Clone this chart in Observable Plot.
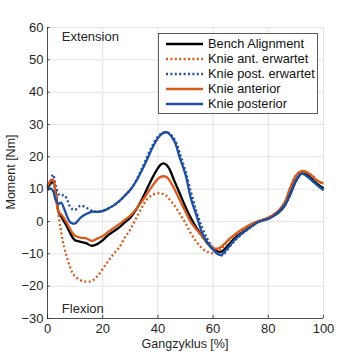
<!DOCTYPE html>
<html><head><meta charset="utf-8">
<script src="https://cdn.jsdelivr.net/npm/d3@7"></script>
<script src="https://cdn.jsdelivr.net/npm/@observablehq/plot@0.6"></script>
<style>body{margin:0;background:#fff}</style>
</head><body><div id="chart"></div>
<script>
const gait = [0,1,2,3,4,5,6,7,8,9,10,12,14,16,18,20,22,24,26,28,30,32,34,36,38,40,41,42,43,44,46,48,50,52,54,56,58,60,62,63,64,66,68,70,72,74,76,78,80,82,84,86,88,90,92,94,96,98,100];
const bench = [10.5,11.5,12.3,9,3,1.5,0,-1.5,-3.2,-4.8,-5.8,-6.3,-6.7,-7.5,-7,-5.8,-4.2,-3,-1.8,-0.3,1.2,3.5,6.5,10,13.5,16.5,17.6,18,17.6,16.5,12.5,8.5,4.5,1,-2,-4.5,-6.8,-8.5,-9.4,-9.3,-8.7,-6.8,-5,-3.7,-2.5,-1.3,-0.2,0.4,1,1.8,3,5,8.5,12.5,14.8,14.5,13,11.5,10.3];
const antExp = [11,12.5,12.8,8,2,-3.5,-7.9,-11,-13.8,-15.8,-17,-18.2,-18.6,-18.4,-17,-14.7,-12.2,-10,-8,-5,-2.5,0.8,4,6.8,8.2,8.7,8.7,8.5,8,7,5,2.3,-0.5,-3.8,-6.3,-8.3,-9.4,-9.8,-9.2,-8.5,-7.5,-5.5,-4,-2.8,-1.7,-0.8,0,0.5,1.2,2.2,3.6,6,10.5,14.2,15.5,15.2,14,12.5,11.5];
const postExp = [10,12,14.5,11,8.5,8,8.2,7,4.8,3.8,3.6,4.9,4.3,3.4,3,3.4,4,5,6.3,8,9.8,12.5,16,19.8,23.5,26.3,27,27.5,27.6,27.4,25.5,21,15.5,9,3,-1.8,-5.5,-8.2,-10,-10.5,-10,-7.8,-5.8,-4.2,-2.8,-1.5,-0.3,0.3,0.8,1.8,3.2,5,8.5,12.5,14.7,14.2,12.8,11.2,9.8];
const anterior = [11,12.5,13,8,3,2.2,1,-0.4,-2,-3.5,-4.4,-5,-5.2,-6,-5.3,-4.5,-3.2,-2,-0.8,0.5,1.8,3.7,6,8.5,11,13.2,13.8,14,13.8,13,10,6.5,3,-0.3,-2.5,-4.5,-6.6,-8.2,-8.3,-7.8,-7,-5.3,-4,-2.7,-1.6,-0.7,0,0.5,1.2,2.2,3.6,6,10.5,14.2,15.6,15.3,14,12.5,11.8];
const posterior = [9.7,10.2,9.5,6.5,5.5,5.8,4,1.8,0,-0.6,-0.6,1.2,2.3,3,3,3.2,4,5,6.3,8,9.8,12.3,15.5,19,22.8,25.8,26.8,27.4,27.6,27.2,24.8,19.5,14.5,7,1.8,-3.5,-6.5,-8.7,-10.2,-10.3,-9.5,-7.5,-5.5,-4,-2.7,-1.5,-0.3,0.3,0.8,1.8,3.2,5.2,8.8,12.8,14.8,14,12.5,11,9.7];

const seriesNames = ["Bench Alignment","Knie ant. erwartet","Knie post. erwartet","Knie anterior","Knie posterior"];
const seriesValues = [bench, antExp, postExp, anterior, posterior];
const seriesColors = ["#000000","#d95a1c","#1f4f9e","#d95a1c","#1f4f9e"];
const seriesDash = ["none","2 2.4","2 2.4","none","none"];

const xTicks = [0,20,40,60,80,100];
const yTicks = [-30,-20,-10,0,10,20,30,40,50,60];
const xLabel = "Gangzyklus [%]";
const yLabel = "Moment [Nm]";
const notes = [{x:5.2, y:57.2, text:"Extension"},{x:5.2, y:-26.9, text:"Flexion"}];

const font = "'Liberation Sans', Arial, sans-serif";
const axisColor = "#262626";

const lineMarks = seriesValues.map((vals, i) =>
  Plot.line(gait.map((g, j) => ({x: g, y: vals[j]})), {
    x: "x", y: "y", stroke: seriesColors[i], strokeWidth: 2.3,
    strokeDasharray: seriesDash[i], strokeLinecap: "butt", curve: "catmull-rom"
  })
);

const svg = Plot.plot({
  width: 356, height: 356,
  marginLeft: 47, marginRight: 33, marginTop: 27, marginBottom: 38,
  x: {domain: [0, 100]},
  y: {domain: [-30, 60]},
  style: {fontFamily: font, fontSize: "13px", color: axisColor, background: "#fff"},
  marks: [
    Plot.gridX(xTicks, {stroke: "#e3e3e3", strokeOpacity: 1}),
    Plot.gridY(yTicks, {stroke: "#e3e3e3", strokeOpacity: 1}),
    ...lineMarks,
    Plot.ruleX([0], {stroke: axisColor, strokeWidth: 0.8}),
    Plot.ruleY([-30], {stroke: axisColor, strokeWidth: 0.8}),
    Plot.ruleY(yTicks, {x1: 0, x2: 1, stroke: axisColor, strokeWidth: 0.8}),
    Plot.ruleX(xTicks, {y1: -30, y2: -29, stroke: axisColor, strokeWidth: 0.8}),
    Plot.axisY(yTicks, {tickSize: 0, tickPadding: 4, label: null, fontSize: 13, fill: axisColor}),
    Plot.axisX(xTicks, {tickSize: 0, tickPadding: 5, label: null, fontSize: 13, fill: axisColor}),
    Plot.text(notes, {x: "x", y: "y", text: "text", textAnchor: "start", fontSize: 13, fill: axisColor})
  ]
});

const s = d3.select(svg);
s.append("text").attr("x", 185).attr("y", 348).attr("text-anchor", "middle")
  .attr("font-family", font).attr("font-size", 12.5).attr("fill", axisColor).text(xLabel);
s.append("text").attr("transform", "translate(15,172) rotate(-90)").attr("text-anchor", "middle")
  .attr("font-family", font).attr("font-size", 12.5).attr("fill", axisColor).text(yLabel);

// legend
const lg = s.append("g");
lg.append("rect").attr("x", 158.5).attr("y", 33.5).attr("width", 159).attr("height", 80)
  .attr("fill", "#fff").attr("stroke", "#333").attr("stroke-width", 0.8);
seriesNames.forEach((name, i) => {
  const yy = 44 + i * 15;
  lg.append("line").attr("x1", 166).attr("x2", 203).attr("y1", yy).attr("y2", yy)
    .attr("stroke", seriesColors[i]).attr("stroke-width", 2.3)
    .attr("stroke-dasharray", seriesDash[i]);
  lg.append("text").attr("x", 208).attr("y", yy).attr("dy", "0.35em")
    .attr("text-anchor", "start")
    .attr("font-family", font).attr("font-size", 12.8).attr("fill", "#111").text(name);
});

document.getElementById("chart").appendChild(svg);
</script>
</body></html>
